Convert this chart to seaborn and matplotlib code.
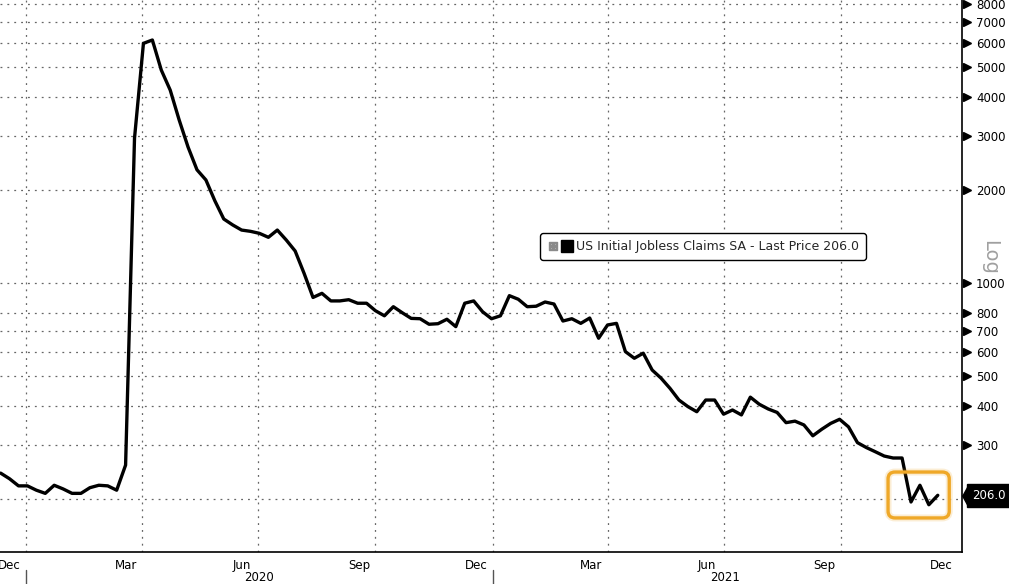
import numpy as np
import pandas as pd
import matplotlib
matplotlib.use("Agg")
import matplotlib.pyplot as plt
import matplotlib.dates as mdates
import matplotlib.transforms as mtrans
from matplotlib.lines import Line2D
from matplotlib.legend_handler import HandlerTuple
from matplotlib.patches import FancyBboxPatch
import seaborn as sns

# ---- data (thousands, weekly, plotted by release date) ----
start_date = "2019-12-12"
claims = [
    243, 233, 221, 221, 214, 209, 222, 216, 209, 209,
    218, 222, 221, 214, 258, 2950, 5980, 6130, 4900, 4220,
    3380, 2760, 2330, 2160, 1850, 1615, 1545, 1487, 1473, 1451,
    1409, 1487, 1381, 1272, 1077, 900, 928, 877, 877, 885,
    862, 862, 815, 785, 840, 803, 770, 768, 737, 740,
    765, 724, 862, 877, 809, 768, 785, 912, 888, 840,
    843, 870, 857, 755, 768, 742, 772, 664, 733, 742,
    601, 572, 594, 524, 493, 457, 419, 399, 384, 419,
    419, 377, 389, 375, 428, 406, 392, 382, 354, 358,
    348, 321, 337, 352, 363, 343, 305, 294, 285, 276,
    272, 272, 196, 222, 192, 206,
]
ytick_vals = [200, 300, 400, 500, 600, 700, 800, 1000, 2000, 3000, 4000, 5000, 6000, 7000, 8000]
ytick_labels = ["", "300", "400", "500", "600", "700", "800", "1000", "2000", "3000",
                "4000", "5000", "6000", "7000", "8000"]
month_label_dates = ["2019-12-19", "2020-03-19", "2020-06-18", "2020-09-18", "2020-12-19",
                     "2021-03-19", "2021-06-18", "2021-09-18", "2021-12-19"]
month_labels = ["Dec", "Mar", "Jun", "Sep", "Dec", "Mar", "Jun", "Sep", "Dec"]
years = ["2020", "2021"]
legend_text = "US Initial Jobless Claims SA - Last Price"

dates = pd.date_range(start_date, periods=len(claims), freq="7D")
df = pd.DataFrame({"date": dates, "claims": claims})

sns.set_style("white")
plt.rcParams["font.family"] = ["DejaVu Sans"]

W, H = 1009, 584
fig = plt.figure(figsize=(W / 100, H / 100), dpi=100)
ax = fig.add_axes([0, 32 / H, 962 / W, 552 / H])

sns.lineplot(data=df, x="date", y="claims", ax=ax, color="black", lw=2.4,
             legend=False, zorder=5)

ax.set_yscale("log")
ax.set_ylim(135, 8260)
ax.set_xlim(pd.Timestamp("2019-12-11 12:00"), pd.Timestamp("2022-01-04"))
ax.set_xlabel("")
ax.set_ylabel("")

# spines
for s in ["top", "left"]:
    ax.spines[s].set_visible(False)
for s in ["right", "bottom"]:
    ax.spines[s].set_visible(True)
    ax.spines[s].set_color("black")
    ax.spines[s].set_linewidth(1.2)

# y axis
ax.yaxis.tick_right()
ax.set_yticks(ytick_vals)
ax.set_yticklabels(ytick_labels)
ax.yaxis.set_minor_locator(matplotlib.ticker.NullLocator())
ax.tick_params(axis="y", which="major", length=0, pad=10, labelsize=8.5, labelcolor="black")

grid_kw = dict(color="#666666", lw=0.9, ls=(0, (1.5, 4)), zorder=1)
for v in ytick_vals:
    ax.axhline(v, **grid_kw)

tri_tr = mtrans.offset_copy(ax.get_yaxis_transform(), fig=fig, x=4.5, y=0, units="dots")
ax.plot(np.ones(len(ytick_vals) - 1), ytick_vals[1:], marker=">", ms=5.5, color="black",
        ls="none", transform=tri_tr, clip_on=False)

# x axis
month_starts = pd.date_range("2020-01-01", "2022-01-01", freq="MS")
quarter_starts = pd.date_range("2020-01-01", "2021-10-01", freq="QS")
for d in quarter_starts:
    ax.axvline(d, **grid_kw)

ax.set_xticks(pd.to_datetime(month_label_dates))
ax.set_xticklabels(month_labels)
ax.set_xticks(month_starts, minor=True)
ax.tick_params(axis="x", which="major", length=0, pad=5, labelsize=8.5, labelcolor="black")
ax.tick_params(axis="x", which="minor", length=4, width=1, color="black", direction="out")

xtr = ax.get_xaxis_transform()
for i, yr in enumerate(years):
    y0 = pd.Timestamp(f"{yr}-01-01")
    y1 = pd.Timestamp(f"{int(yr) + 1}-01-01")
    mid = y0 + (y1 - y0) / 2
    ax.text(mid, -0.047, yr, ha="center", va="center", fontsize=8.5,
            transform=xtr, color="black")
    ax.plot([y0, y0], [-0.032, -0.06], color="#555555", lw=1, transform=xtr, clip_on=False)

# "Log" watermark
fig.text(989.5 / W, 1 - 257 / H, "Log", rotation=270, ha="center", va="center",
         fontsize=14, color="#a0a0a0")

# last value tag
last = claims[-1]
tag_tr = mtrans.offset_copy(ax.get_yaxis_transform(), fig=fig, x=10, y=0, units="dots")
ax.text(1, last, f"{last:.1f}", transform=tag_tr, ha="left", va="center", color="white",
        fontsize=8.5, clip_on=False,
        bbox=dict(boxstyle="square,pad=0.4", fc="black", ec="black"))
arr_tr = mtrans.offset_copy(ax.get_yaxis_transform(), fig=fig, x=6, y=0, units="dots")
ax.plot([1], [last], marker=[(0, 1), (0, -1), (-0.55, 0)], ms=16, color="black",
        ls="none", transform=arr_tr, clip_on=False)

# orange highlight box around the latest readings
hx0 = mdates.date2num(pd.Timestamp("2021-11-07"))
hx1 = mdates.date2num(pd.Timestamp("2021-12-25"))
p0 = ax.transData.transform((hx0, 174))
p1 = ax.transData.transform((hx1, 245))
for lw, a in [(5, 0.2), (2.4, 1.0)]:
    box = FancyBboxPatch((p0[0], p0[1]), p1[0] - p0[0], p1[1] - p0[1],
                         boxstyle="round,pad=0,rounding_size=7", fill=False,
                         ec="#efa828", lw=lw, alpha=a, transform=mtrans.IdentityTransform(),
                         zorder=6, clip_on=False)
    ax.add_patch(box)

# legend
h_icon = Line2D([], [], marker=r"$\boxplus$", color="#8a8a8a", ls="none", ms=6)
h_sq = Line2D([], [], marker="s", color="black", ls="none", ms=9)
leg = ax.legend([(h_icon, h_sq)], [f"{legend_text} {last:.1f}"],
                handler_map={tuple: HandlerTuple(ndivide=None, pad=0.25)},
                loc="center", bbox_to_anchor=(703 / W, 1 - 246.5 / H),
                bbox_transform=fig.transFigure, frameon=True, fancybox=True,
                fontsize=9, handlelength=2.0, handletextpad=0.3, borderpad=0.55,
                framealpha=1)
leg.get_frame().set_edgecolor("black")
leg.get_frame().set_linewidth(1.0)
leg.set_zorder(10)

fig.savefig("out.png", dpi=100, facecolor="white")
